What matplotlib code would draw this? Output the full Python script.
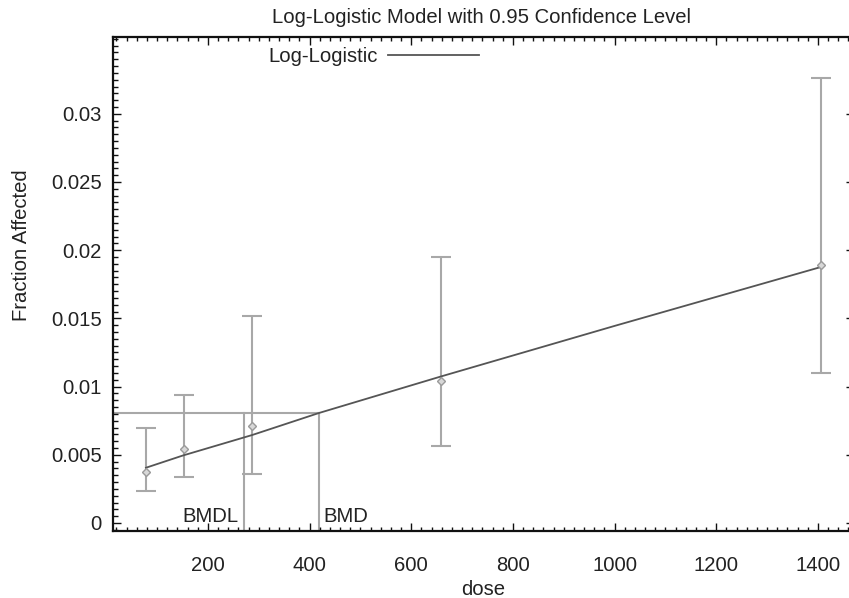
import matplotlib
matplotlib.use("Agg")
import matplotlib.pyplot as plt
from matplotlib.ticker import MultipleLocator, FuncFormatter
from matplotlib.lines import Line2D

# Observed dose groups: fraction affected with 95% confidence bounds
dose = [78, 152, 287, 659, 1406]
frac_affected = [0.00374, 0.00540, 0.00709, 0.01041, 0.01891]
ci_lower = [0.00237, 0.00335, 0.00359, 0.00565, 0.01102]
ci_upper = [0.00696, 0.00941, 0.01518, 0.01950, 0.03260]

# Fitted log-logistic curve
curve_dose = [78, 150, 287, 418, 659, 1000, 1406]
curve_frac = [0.00405, 0.00494, 0.00645, 0.00806, 0.01075, 0.01445, 0.01877]

# Benchmark dose results
bmr_level = 0.00806
bmd = 418
bmdl = 271

x_ticks = [200, 400, 600, 800, 1000, 1200, 1400]
y_ticks = [0, 0.005, 0.01, 0.015, 0.02, 0.025, 0.03]

plt.rcParams['font.family'] = ['Liberation Sans', 'DejaVu Sans']
FS = 14.6
TXT = '#222222'
GREY = '#a8a8a8'
CURVE = '#555555'

fig = plt.figure(figsize=(8.49, 5.98), dpi=100)
ax = fig.add_axes([113 / 849, 1 - 531 / 598, 1 - 113 / 849, (531 - 37) / 598])

# Error bars and observed means
ax.errorbar(dose, frac_affected,
            yerr=[[m - lo for m, lo in zip(frac_affected, ci_lower)],
                  [hi - m for m, hi in zip(frac_affected, ci_upper)]],
            fmt='none', ecolor=GREY, elinewidth=1.5, capsize=7, capthick=1.5, zorder=2)
ax.plot(dose, frac_affected, linestyle='none', marker='D', markersize=4,
        markerfacecolor='#d8d8d8', markeredgecolor='#9a9a9a', markeredgewidth=1, zorder=4)

# Fitted model
ax.plot(curve_dose, curve_frac, color=CURVE, linewidth=1.3, zorder=3)

# BMR level, BMD and BMDL markers
xmin, xmax = 13.2, 1461
ymin, ymax = -0.000587, 0.03563
ax.plot([xmin, bmd], [bmr_level, bmr_level], color=GREY, linewidth=1.5, zorder=1)
ax.plot([bmd, bmd], [ymin, bmr_level], color=GREY, linewidth=1.5, zorder=1)
ax.plot([bmdl, bmdl], [ymin, bmr_level], color=GREY, linewidth=1.5, zorder=1)
ax.annotate('BMDL', xy=(bmdl, 0.00044), xytext=(-4, 0), textcoords='offset points',
            ha='right', va='center', fontsize=FS, color=TXT)
ax.annotate('BMD', xy=(bmd, 0.00044), xytext=(3, 0), textcoords='offset points',
            ha='left', va='center', fontsize=FS, color=TXT)

ax.set_xlim(xmin, xmax)
ax.set_ylim(ymin, ymax)

ax.xaxis.set_major_locator(MultipleLocator(200))
ax.xaxis.set_minor_locator(MultipleLocator(20))
ax.yaxis.set_major_locator(MultipleLocator(0.005))
ax.yaxis.set_minor_locator(MultipleLocator(0.0005))
ax.set_xticks(x_ticks)
ax.set_yticks(y_ticks)
ax.yaxis.set_major_formatter(FuncFormatter(lambda v, p: f'{v:g}'))

for side in ('left', 'bottom', 'top'):
    ax.spines[side].set_linewidth(1.6)
    ax.spines[side].set_color('#111111')
ax.spines['right'].set_visible(False)

ax.tick_params(axis='both', which='both', direction='in', colors='#111111',
               labelcolor=TXT, labelsize=FS, width=1)
ax.tick_params(axis='x', which='major', length=6, top=True, pad=18)
ax.tick_params(axis='x', which='minor', length=3, top=True)
ax.tick_params(axis='y', which='major', length=6, pad=8, right=True)
ax.tick_params(axis='y', which='minor', length=3.5)
# right side only carries tiny tick dots
for t in ax.yaxis.get_major_ticks():
    t.tick2line.set_markersize(2)

ax.set_title('Log-Logistic Model with 0.95 Confidence Level', fontsize=FS, color=TXT, pad=10)
ax.set_xlabel('dose', fontsize=FS, color=TXT)
ax.set_ylabel('Fraction Affected', fontsize=FS, color=TXT)
ax.xaxis.set_label_coords(0.5027, -0.099)
ax.yaxis.set_label_coords(-0.112, 0.579)

legend_handle = Line2D([], [], color=CURVE, linewidth=1.3, label='Log-Logistic')
ax.legend(handles=[legend_handle], loc='upper left', bbox_to_anchor=(0.2106, 0.98),
          frameon=False, markerfirst=False, fontsize=FS, handlelength=4.5,
          handletextpad=0.5, borderpad=0, borderaxespad=0, labelcolor=TXT)

fig.savefig('out.png', dpi=100)
